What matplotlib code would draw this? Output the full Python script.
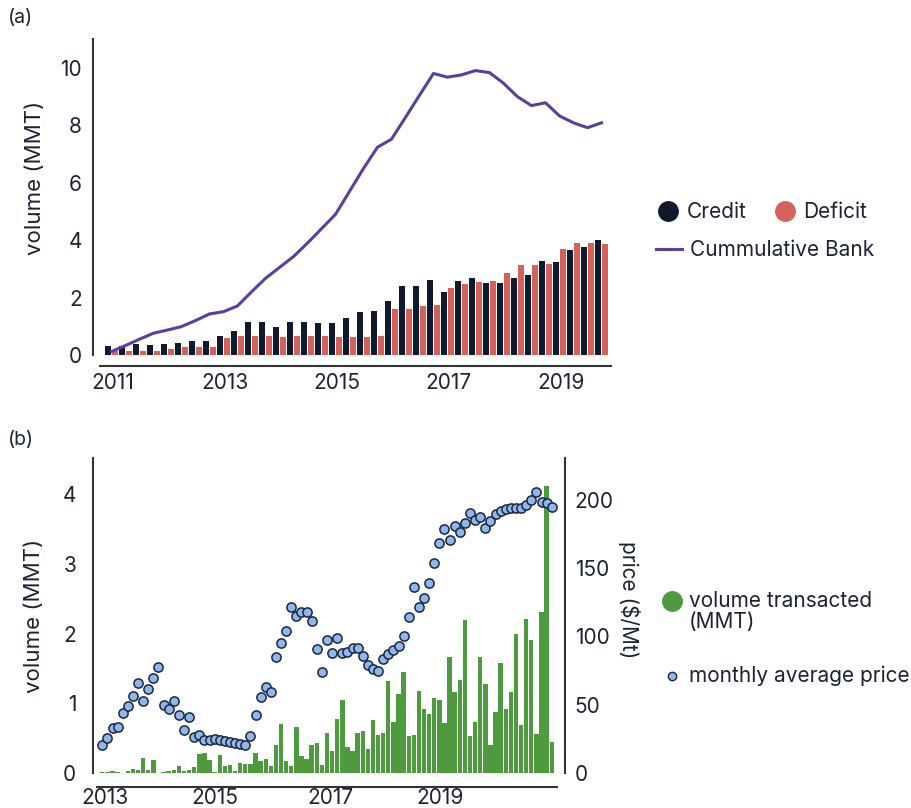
import matplotlib
matplotlib.use('Agg')
import matplotlib.pyplot as plt
from matplotlib.lines import Line2D
import numpy as np

plt.rcParams['font.family'] = ['Inter', 'DejaVu Sans']

TEXT = '#1c2333'
NAVY = '#101a2c'
RED = '#d6605a'
PURPLE = '#5b3f9e'
GREEN = '#4e9a3e'
BLUE = '#8fb7ea'
EDGE = '#1c2640'

# ---------------- panel (a): quarterly 2011Q1 .. 2019Q4 ----------------
credit = [0.30, 0.30, 0.38, 0.36, 0.38, 0.42, 0.50, 0.50, 0.67, 0.85, 1.14, 1.14,
          0.99, 1.14, 1.16, 1.10, 1.11, 1.30, 1.50, 1.54, 1.89, 2.39, 2.40, 2.60,
          2.18, 2.57, 2.69, 2.50, 2.50, 2.67, 2.79, 3.28, 3.25, 3.65, 3.75, 4.02]
deficit = [0.15, 0.15, 0.15, 0.15, 0.21, 0.27, 0.27, 0.29, 0.58, 0.65, 0.67, 0.67,
           0.62, 0.67, 0.67, 0.67, 0.64, 0.63, 0.64, 0.67, 1.61, 1.61, 1.71, 1.75,
           2.32, 2.46, 2.54, 2.58, 2.87, 3.13, 3.13, 3.18, 3.70, 3.89, 3.89, 3.87]
bank = [0.12, 0.33, 0.55, 0.76, 0.87, 0.99, 1.20, 1.43, 1.51, 1.71, 2.20, 2.67,
        3.05, 3.43, 3.90, 4.40, 4.90, 5.70, 6.50, 7.24, 7.52, 8.28, 9.05, 9.81,
        9.68, 9.76, 9.91, 9.84, 9.47, 9.00, 8.69, 8.79, 8.33, 8.09, 7.92, 8.09]
years_a = ['2011', '2013', '2015', '2017', '2019']

# ---------------- panel (b): monthly ----------------
volume = [0.01, 0.02, 0.025, 0.02, 0.005, 0.035, 0.06, 0.05, 0.22, 0.04,
          0.19, 0.005, 0.02, 0.025, 0.05, 0.10, 0.035, 0.05, 0.08, 0.27,
          0.28, 0.18, 0.02, 0.26, 0.10, 0.11, 0.03, 0.14, 0.13, 0.13,
          0.29, 0.17, 0.20, 0.10, 0.40, 0.70, 0.17, 0.10, 0.66, 0.25,
          0.20, 0.40, 0.43, 0.11, 0.58, 0.31, 0.78, 1.05, 0.37, 0.31,
          0.58, 0.60, 0.35, 0.76, 0.55, 0.58, 1.32, 0.73, 1.13, 1.45,
          0.53, 0.55, 1.17, 0.92, 0.84, 1.08, 1.04, 0.71, 1.66, 1.16,
          1.34, 2.19, 0.53, 0.73, 1.67, 1.28, 0.40, 0.87, 1.57, 0.92,
          1.16, 1.99, 0.69, 2.21, 1.90, 0.56, 2.31, 4.11, 0.45]
price = [20.5, 25.9, 32.7, 33.5, 43.7, 49.3, 56.6, 65.7, 52.7, 61.5,
         69.8, 77.9, 49.8, 46.6, 52.7, 42.5, 31.5, 40.8, 26.6, 27.8,
         24.5, 24.5, 24.7, 24.2, 23.4, 22.5, 21.8, 21.0, 20.5, 26.8,
         42.5, 55.9, 63.2, 59.1, 85.2, 95.0, 104.3, 121.4, 115.0, 117.7,
         118.2, 111.4, 90.8, 73.8, 97.4, 88.1, 99.1, 88.1, 88.9, 91.8,
         91.8, 85.9, 79.1, 76.2, 74.7, 83.5, 87.0, 90.1, 93.3, 100.4,
         114.1, 136.0, 121.4, 128.0, 139.4, 153.6, 168.7, 178.6, 170.7, 180.7,
         176.4, 182.9, 190.2, 185.3, 187.8, 179.5, 184.6, 189.6, 192.2, 193.5,
         193.9, 193.9, 193.9, 196.5, 199.7, 205.8, 198.8, 197.6, 194.6]
years_b = ['2013', '2015', '2017', '2019']

W, H = 912, 808
fig = plt.figure(figsize=(W / 100, H / 100), dpi=100)


def rect(l, t, r, b):
    return [l / W, 1 - b / H, (r - l) / W, (b - t) / H]


def fx(px):
    return px / W


def fy(py):
    return 1 - py / H


FS = 15

# ---------------- (a) ----------------
ax1 = fig.add_axes(rect(93, 39.3, 612, 355))
q = np.arange(len(credit))
ax1.bar(q - 0.23, credit, width=0.45, color=NAVY, zorder=2)
ax1.bar(q + 0.23, deficit, width=0.45, color=RED, zorder=2)
ax1.plot(q, bank, color=PURPLE, lw=2.2, zorder=3)
ax1.set_xlim(-1.32, 35.75)
ax1.set_ylim(0, 11)
ax1.set_xticks(np.arange(len(years_a)) * 8 + 0.1)
ax1.set_xticklabels(years_a)
ax1.set_yticks([0, 2, 4, 6, 8, 10])
ax1.tick_params(axis='both', length=0, labelsize=FS, colors=TEXT)
ax1.tick_params(axis='y', pad=8)
ax1.tick_params(axis='x', pad=5)
for s in ['top', 'right']:
    ax1.spines[s].set_visible(False)
ax1.spines['bottom'].set_position(('outward', 8))
ax1.spines['bottom'].set_bounds(-0.85, 35.7)
for s in ['left', 'bottom']:
    ax1.spines[s].set_color('#333333')
    ax1.spines[s].set_linewidth(1.5)
ax1.set_ylabel('volume (MMT)', fontsize=16, color=TEXT)
ax1.yaxis.set_label_coords(-0.093, 0.56)

h_credit = Line2D([], [], marker='o', ls='none', color=NAVY, markersize=14)
h_def = Line2D([], [], marker='o', ls='none', color=RED, markersize=14)
h_bank = Line2D([], [], color=PURPLE, lw=2.2)
fig.legend([h_credit, h_def], ['Credit', 'Deficit'], ncol=2, frameon=False,
           loc='center left', bbox_to_anchor=(fx(656), fy(212)),
           fontsize=FS, handletextpad=0.3, columnspacing=1.2,
           labelcolor=TEXT, handlelength=1.2, borderpad=0, borderaxespad=0)
fig.legend([h_bank], ['Cummulative Bank'], frameon=False,
           loc='center left', bbox_to_anchor=(fx(656), fy(250)),
           fontsize=FS, handletextpad=0.4, labelcolor=TEXT,
           handlelength=1.25, borderpad=0, borderaxespad=0)

# ---------------- (b) ----------------
ax2 = fig.add_axes(rect(93, 458, 565, 773))
m = np.arange(len(volume))
ax2.bar(m, volume, width=0.86, color=GREEN, zorder=2)
ax2.set_xlim(-1.82, 90.6)
ax2.set_ylim(0, 315 / 69.75)
ax2.set_yticks([0, 1, 2, 3, 4])
ax2.set_xticks([0.55, 22.1, 44.6, 66.1])
ax2.set_xticklabels(years_b)
ax2.tick_params(axis='both', length=0, labelsize=FS, colors=TEXT)
ax2.tick_params(axis='y', pad=12)
ax2.tick_params(axis='x', pad=1)
ax2.spines['top'].set_visible(False)
ax2.spines['right'].set_visible(False)
ax2.spines['bottom'].set_position(('outward', 10))
ax2.spines['bottom'].set_bounds(-1.0, 89.0)
for s in ['left', 'bottom']:
    ax2.spines[s].set_color('#333333')
    ax2.spines[s].set_linewidth(1.5)
ax2.set_ylabel('volume (MMT)', fontsize=16, color=TEXT)
ax2.yaxis.set_label_coords(-0.104, 0.5)

ax3 = ax2.twinx()
ax3.scatter(m, price, s=44, color=BLUE, edgecolor=EDGE, linewidth=1.1, zorder=4)
ax3.set_ylim(0, 315 / 1.365)
ax3.set_yticks([0, 50, 100, 150, 200])
ax3.tick_params(axis='y', length=0, labelsize=FS, colors=TEXT, pad=7)
for s in ['top', 'left', 'bottom']:
    ax3.spines[s].set_visible(False)
ax3.spines['right'].set_color('#333333')
ax3.spines['right'].set_linewidth(1.5)
ax3.set_ylabel('price ($/Mt)', fontsize=15, color=TEXT, rotation=270)
ax3.yaxis.set_label_coords(1.158, 0.55)

# legend for (b), drawn entry by entry
fig.add_artist(Line2D([fx(672)], [fy(601)], transform=fig.transFigure, marker='o',
                      ls='none', color=GREEN, markersize=14))
fig.text(fx(689), fy(601), 'volume transacted', fontsize=FS, color=TEXT,
         va='center', ha='left')
fig.text(fx(689), fy(622), '(MMT)', fontsize=FS, color=TEXT, va='center', ha='left')
fig.add_artist(Line2D([fx(672)], [fy(676)], transform=fig.transFigure, marker='o',
                      ls='none', color=BLUE, markeredgecolor=EDGE,
                      markeredgewidth=1, markersize=6))
fig.text(fx(689), fy(676), 'monthly average price', fontsize=FS, color=TEXT,
         va='center', ha='left')

fig.text(fx(8), fy(18), '(a)', fontsize=14, color=TEXT, va='center')
fig.text(fx(8), fy(440), '(b)', fontsize=14, color=TEXT, va='center')

fig.savefig('out.png', dpi=100, facecolor='white')
